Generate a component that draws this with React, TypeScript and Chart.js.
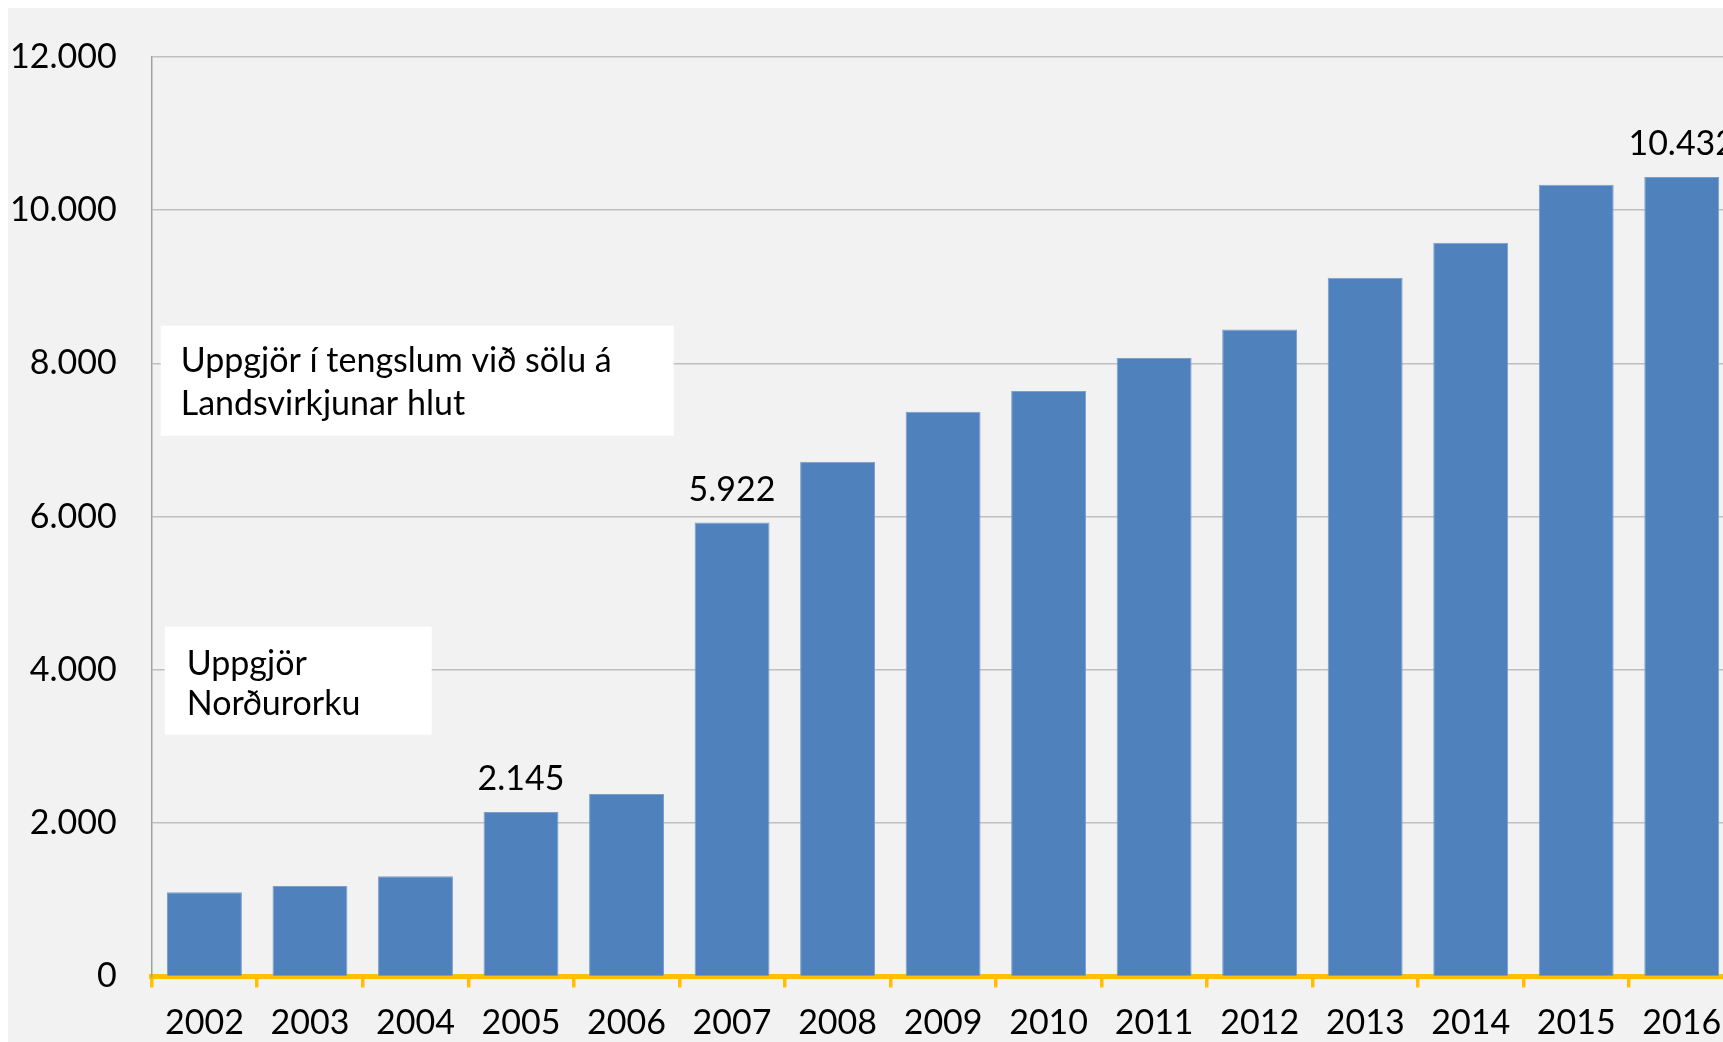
import React, { useEffect, useRef } from "react";
import { Chart, registerables } from "chart.js";

Chart.register(...registerables);

const years = ["2002", "2003", "2004", "2005", "2006", "2007", "2008", "2009", "2010", "2011", "2012", "2013", "2014", "2015", "2016"];
const values = [1100, 1180, 1307, 2145, 2381, 5922, 6715, 7368, 7638, 8070, 8440, 9115, 9573, 10330, 10432];
const labeledYears = ["2005", "2007", "2016"];
const yTicks = [0, 2000, 4000, 6000, 8000, 10000, 12000];
const noteTop = ["Uppgjör í tengslum við sölu á", "Landsvirkjunar hlut"];
const noteBottom = ["Uppgjör", "Norðurorku"];

const FONT = "Lato, 'Open Sans', sans-serif";
const FS = 34;
const fmt = (v: number) => String(Math.round(v)).replace(/\B(?=(\d{3})+(?!\d))/g, ".");

const W = 1760;
const H = 1034;

export default function App() {
  const ref = useRef<HTMLCanvasElement | null>(null);
  useEffect(() => {
    if (!ref.current) return;
    const bgPlugin = {
      id: "bg",
      beforeDraw(chart: any) {
        const ctx = chart.ctx;
        ctx.save();
        ctx.fillStyle = "#F2F2F2";
        ctx.fillRect(0, 0, chart.width, chart.height);
        ctx.restore();
      },
    };
    const notesPlugin = {
      id: "notes",
      afterDraw(chart: any) {
        const ctx = chart.ctx;
        const a = chart.chartArea;
        ctx.save();
        const drawBox = (x: number, y: number, w: number, h: number, lines: string[], tx: number, ty: number, lh: number) => {
          ctx.fillStyle = "#FFFFFF";
          ctx.fillRect(a.left + x, a.top + y, w, h);
          ctx.fillStyle = "#000000";
          ctx.font = `400 ${FS}px ${FONT}`;
          ctx.textAlign = "left";
          ctx.textBaseline = "middle";
          lines.forEach((l, i) => ctx.fillText(l, a.left + tx, a.top + ty + i * lh));
        };
        drawBox(9, 269, 513, 110, noteTop, 29, 304, 43);
        drawBox(13, 570, 267, 108, noteBottom, 35, 607, 40);
        const meta = chart.getDatasetMeta(0);
        ctx.font = `400 ${FS}px ${FONT}`;
        ctx.textAlign = "center";
        ctx.textBaseline = "middle";
        ctx.fillStyle = "#000000";
        years.forEach((yr, i) => {
          if (!labeledYears.includes(yr)) return;
          const el = meta.data[i];
          ctx.fillText(fmt(values[i]), el.x, el.y - 33);
        });
        ctx.restore();
      },
    };
    const chart = new Chart(ref.current, {
      type: "bar",
      data: {
        labels: years,
        datasets: [
          {
            data: values,
            backgroundColor: "#4F81BD",
            borderColor: "#7A9FCE",
            borderWidth: 1,
            barPercentage: 0.71,
            categoryPercentage: 1,
          },
        ],
      },
      options: {
        responsive: false,
        animation: false,
        devicePixelRatio: 1,
        layout: { padding: { top: 48.7, right: W - 1726.5, bottom: 0, left: 0 } },
        plugins: { legend: { display: false }, tooltip: { enabled: false } },
        scales: {
          x: {
            grid: {
              offset: true,
              drawOnChartArea: false,
              drawTicks: true,
              tickLength: 11,
              color: "#FFC000",
              lineWidth: 3.5,
            },
            border: { display: true, color: "#FFC000", width: 5 },
            ticks: {
              color: "#000000",
              font: { family: FONT, size: FS, weight: "400" as any },
              padding: 15,
              maxRotation: 0,
              autoSkip: false,
            },
            afterFit(scale: any) {
              scale.height = 65.5;
            },
          },
          y: {
            min: 0,
            max: 12000,
            afterBuildTicks(scale: any) {
              scale.ticks = yTicks.map((v) => ({ value: v }));
            },
            grid: { color: "#BFBFBF", lineWidth: 1.5, drawTicks: false },
            border: { display: true, color: "#A0A0A0", width: 1.5 },
            ticks: {
              color: "#000000",
              font: { family: FONT, size: FS, weight: "400" as any },
              padding: 35,
              callback: (v: any) => fmt(Number(v)),
            },
            afterFit(scale: any) {
              scale.width = 143.7;
              scale.paddingTop = 0;
              scale.paddingBottom = 0;
            },
          },
        },
      },
      plugins: [bgPlugin, notesPlugin],
    });
    return () => chart.destroy();
  }, []);
  return (
    <div style={{ position: "fixed", left: 8, top: 8, width: 1715, height: 1034, overflow: "hidden" }}>
      <canvas ref={ref} width={W} height={H} style={{ width: W, height: H, display: "block" }} />
    </div>
  );
}
